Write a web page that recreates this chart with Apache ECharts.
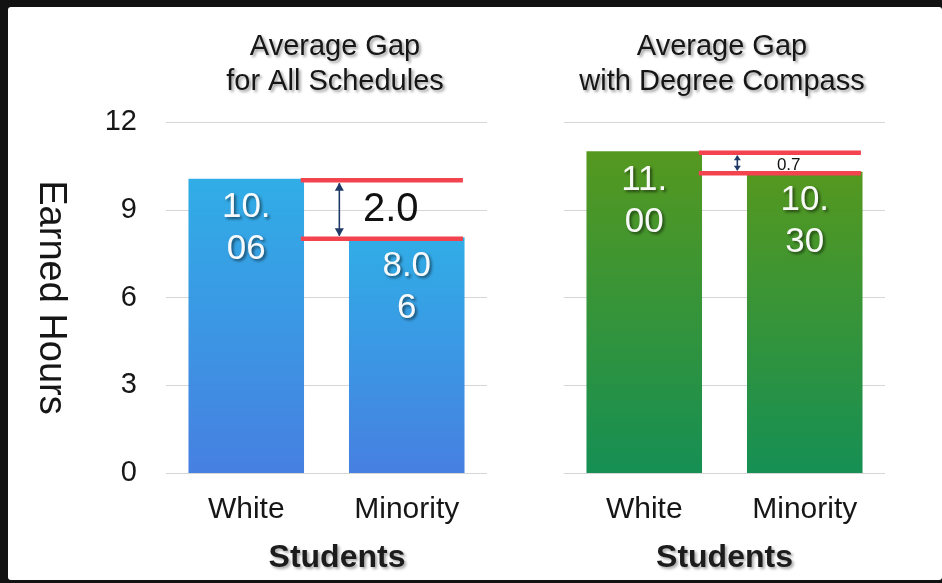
<!DOCTYPE html>
<html>
<head>
<meta charset="utf-8">
<script src="https://cdn.jsdelivr.net/npm/echarts@6.0.0/dist/echarts.min.js"></script>
<style>
  html, body { margin: 0; padding: 0; width: 942px; height: 583px; overflow: hidden; background: #121212; }
  #panel { position: absolute; left: 8px; top: 7px; width: 934px; height: 573px; background: #ffffff; border-radius: 3px; }
  #chart { position: absolute; left: 0; top: 0; width: 942px; height: 583px; }
</style>
</head>
<body>
<div id="panel"></div>
<div id="chart"></div>
<script>
// ---- data ----
const categories = ['White', 'Minority'];
const panelTitles = ['Average Gap\nfor All Schedules', 'Average Gap\nwith Degree Compass'];
const allSchedulesHours = [10.06, 8.06];
const degreeCompassHours = [11.00, 10.30];
const gapLabels = ['2.0', '0.7'];
const yAxisMin = 0;
const yAxisMax = 12;
const yAxisStep = 3;
const yAxisTitle = 'Earned Hours';
const xAxisTitle = 'Students';

// ---- styling ----
const FONT = '"Liberation Sans", Arial, sans-serif';
const TEXT = '#161616';
const GRID_LINE = '#D6D6D6';
const panelValues = [allSchedulesHours, degreeCompassHours];
const barGradients = [
  ['#28AAE6', '#3F7BE0'],
  ['#4E9416', '#0C8B4D']
];
const gapStyle = [
  { font: 40, arrowHead: 8, arrowHalf: 4.5, textDy: 0 },
  { font: 17, arrowHead: 5, arrowHalf: 3.5, textDy: 2 }
];

const chart = echarts.init(document.getElementById('chart'), null, { renderer: 'canvas' });

function barLabel(p) {
  const s = Number(p.value).toFixed(2);
  return s.slice(0, 3) + '\n' + s.slice(3);
}

function gapSeries(i) {
  const vals = panelValues[i];
  return {
    type: 'custom',
    xAxisIndex: i,
    yAxisIndex: i,
    z: 10,
    clip: false,
    silent: true,
    data: [[0, vals[0], vals[1]]],
    renderItem: function (params, api) {
      const top = api.value(1), bot = api.value(2);
      const a = api.coord([0, top]);
      const b = api.coord([1, bot]);
      const band = api.size([1, 0])[0];
      const st = gapStyle[i];
      const x0 = a[0] + 0.34 * band;
      const x1 = b[0] + 0.35 * band;
      const yT = a[1] + 1.5, yB = b[1] + 1.5;
      const ax = a[0] + 0.58 * band;
      const navy = '#1F3A66';
      const red = '#F2434F';
      return {
        type: 'group',
        children: [
          { type: 'text', style: { text: gapLabels[i], x: a[0] + 0.9 * band, y: (yT + yB) / 2 + st.textDy,
              align: 'center', verticalAlign: 'middle', fill: '#111', font: st.font + 'px ' + FONT } },
          { type: 'line', shape: { x1: ax, y1: yT + 3, x2: ax, y2: yB - 3 }, style: { stroke: navy, lineWidth: 1.6 } },
          { type: 'polygon', shape: { points: [[ax, yT + 2.5], [ax - st.arrowHalf, yT + 2.5 + st.arrowHead], [ax + st.arrowHalf, yT + 2.5 + st.arrowHead]] }, style: { fill: navy } },
          { type: 'polygon', shape: { points: [[ax, yB - 2.5], [ax - st.arrowHalf, yB - 2.5 - st.arrowHead], [ax + st.arrowHalf, yB - 2.5 - st.arrowHead]] }, style: { fill: navy } },
          { type: 'line', shape: { x1: x0, y1: yT, x2: x1, y2: yT }, style: { stroke: red, lineWidth: 4.5 } },
          { type: 'line', shape: { x1: x0, y1: yB, x2: x1, y2: yB }, style: { stroke: red, lineWidth: 4.5 } }
        ]
      };
    }
  };
}

function barSeries(i) {
  return {
    type: 'bar',
    xAxisIndex: i,
    yAxisIndex: i,
    data: panelValues[i],
    barWidth: '72%',
    z: 3,
    itemStyle: {
      opacity: 0.96,
      color: new echarts.graphic.LinearGradient(0, 0, 0, 1, [
        { offset: 0, color: barGradients[i][0] },
        { offset: 1, color: barGradients[i][1] }
      ])
    },
    label: {
      show: true,
      position: 'insideTop',
      distance: 8,
      formatter: barLabel,
      color: '#ffffff',
      fontFamily: FONT,
      fontSize: 35,
      lineHeight: 42,
      textShadowColor: 'rgba(0,0,0,0.55)',
      textShadowBlur: 3,
      textShadowOffsetX: 2,
      textShadowOffsetY: 2
    }
  };
}

function xAxis(i) {
  return {
    type: 'category',
    gridIndex: i,
    data: categories,
    axisLine: { show: false },
    axisTick: { show: false },
    axisLabel: { fontFamily: FONT, fontSize: 30, color: TEXT, margin: 22 },
    name: xAxisTitle,
    nameLocation: 'middle',
    nameGap: 69,
    nameTextStyle: {
      fontFamily: FONT, fontSize: 32, fontWeight: 'bold', color: '#1c1c1c',
      padding: i === 0 ? [0, 0, 0, 21] : 0,
      textShadowColor: 'rgba(0,0,0,0.35)', textShadowBlur: 3, textShadowOffsetX: 2, textShadowOffsetY: 2
    }
  };
}

function yAxis(i) {
  const ax = {
    type: 'value',
    gridIndex: i,
    min: yAxisMin,
    max: yAxisMax,
    interval: yAxisStep,
    axisLine: { show: false },
    axisTick: { show: false },
    splitLine: { lineStyle: { color: GRID_LINE, width: 1.2 } },
    axisLabel: { show: i === 0, fontFamily: FONT, fontSize: 29, color: TEXT, margin: 29 }
  };
  if (i === 0) {
    ax.name = yAxisTitle;
    ax.nameLocation = 'middle';
    ax.nameRotate = -90;
    ax.nameGap = 97;
    ax.nameTextStyle = { fontFamily: FONT, fontSize: 38, color: TEXT };
  }
  return ax;
}

const titleCenters = [335, 722];
const option = {
  backgroundColor: 'transparent',
  animation: false,
  grid: [
    { left: 166, top: 122, width: 321, height: 351 },
    { left: 564, top: 122, width: 321, height: 351 }
  ],
  xAxis: [xAxis(0), xAxis(1)],
  yAxis: [yAxis(0), yAxis(1)],
  graphic: panelTitles.map(function (t, i) {
    return {
      type: 'text',
      x: titleCenters[i],
      y: 29,
      style: {
        text: t,
        align: 'center',
        verticalAlign: 'top',
        font: '29px ' + FONT,
        lineHeight: 35,
        fill: TEXT,
        textShadowColor: 'rgba(0,0,0,0.4)',
        textShadowBlur: 3,
        textShadowOffsetX: 2,
        textShadowOffsetY: 2,
        shadowColor: 'rgba(0,0,0,0.4)',
        shadowBlur: 3,
        shadowOffsetX: 2,
        shadowOffsetY: 2
      }
    };
  }),
  series: [barSeries(0), barSeries(1), gapSeries(0), gapSeries(1)]
};
chart.setOption(option);
</script>
</body>
</html>
